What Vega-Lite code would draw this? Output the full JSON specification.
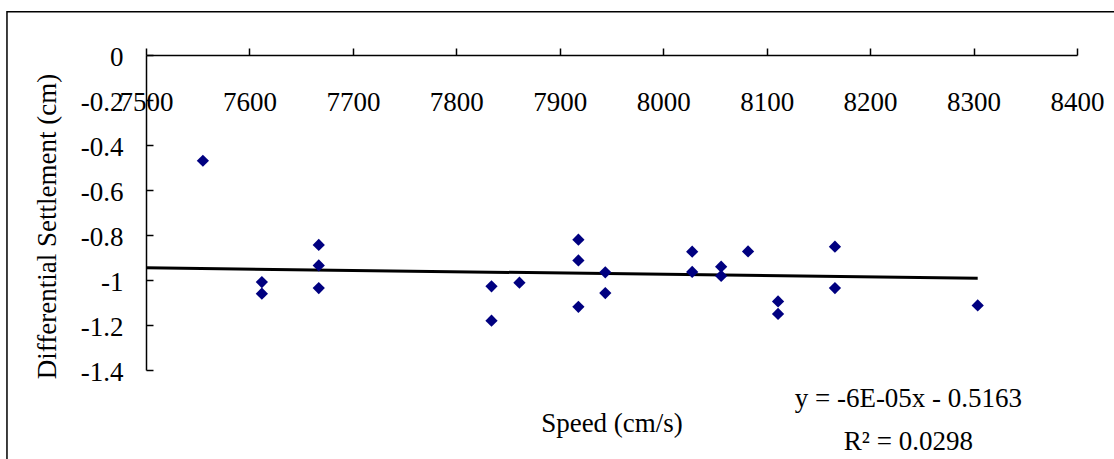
{
  "$schema": "https://vega.github.io/schema/vega-lite/v6.json",
  "width": 931,
  "height": 315,
  "autosize": {"type": "none"},
  "padding": {"left": 146, "top": 55, "right": 37, "bottom": 89},
  "background": "white",
  "config": {
    "font": "Liberation Serif",
    "view": {"stroke": null},
    "axis": {"grid": false}
  },
  "datasets": {
    "points": [
      {"speed": 7555, "settlement": -0.470},
      {"speed": 7612, "settlement": -1.009},
      {"speed": 7612, "settlement": -1.061},
      {"speed": 7667, "settlement": -0.844},
      {"speed": 7667, "settlement": -0.935},
      {"speed": 7667, "settlement": -1.036},
      {"speed": 7834, "settlement": -1.028},
      {"speed": 7834, "settlement": -1.181},
      {"speed": 7861, "settlement": -1.012},
      {"speed": 7918, "settlement": -0.821},
      {"speed": 7918, "settlement": -0.913},
      {"speed": 7918, "settlement": -1.119},
      {"speed": 7944, "settlement": -0.966},
      {"speed": 7944, "settlement": -1.058},
      {"speed": 8028, "settlement": -0.874},
      {"speed": 8028, "settlement": -0.964},
      {"speed": 8056, "settlement": -0.941},
      {"speed": 8056, "settlement": -0.982},
      {"speed": 8082, "settlement": -0.873},
      {"speed": 8111, "settlement": -1.095},
      {"speed": 8111, "settlement": -1.151},
      {"speed": 8166, "settlement": -0.852},
      {"speed": 8166, "settlement": -1.036},
      {"speed": 8304, "settlement": -1.113}
    ],
    "trend": [
      {"speed": 7500, "settlement": -0.946},
      {"speed": 8304, "settlement": -0.992}
    ],
    "notes": [
      {"speed": 8237, "settlement": -1.563, "label": "y = -6E-05x - 0.5163"},
      {"speed": 8237, "settlement": -1.756, "label": "R² = 0.0298"}
    ],
    "frame": [
      {"left": 7365.6, "right": 8460, "top": 0.1924, "bottom": -1.9}
    ]
  },
  "layer": [
    {
      "data": {"name": "frame"},
      "mark": {"type": "rect", "fill": null, "stroke": "black", "strokeWidth": 1.5},
      "encoding": {
        "x": {"field": "left", "type": "quantitative", "scale": {"domain": [7500, 8400]}},
        "x2": {"field": "right"},
        "y": {"field": "top", "type": "quantitative", "scale": {"domain": [-1.4, 0]}},
        "y2": {"field": "bottom"}
      }
    },
    {
      "data": {"name": "trend"},
      "mark": {"type": "line", "color": "black", "strokeWidth": 3},
      "encoding": {
        "x": {"field": "speed", "type": "quantitative", "scale": {"domain": [7500, 8400]}},
        "y": {"field": "settlement", "type": "quantitative", "scale": {"domain": [-1.4, 0]}}
      }
    },
    {
      "data": {"name": "points"},
      "mark": {"type": "point", "shape": "diamond", "filled": true, "color": "#000080", "size": 150, "opacity": 1},
      "encoding": {
        "x": {
          "field": "speed",
          "type": "quantitative",
          "scale": {"domain": [7500, 8400]},
          "axis": {
            "orient": "top",
            "values": [7500, 7600, 7700, 7800, 7900, 8000, 8100, 8200, 8300, 8400],
            "format": "d",
            "domainColor": "black",
            "domainWidth": 1.5,
            "tickColor": "black",
            "tickWidth": 1.5,
            "tickSize": 7,
            "labelPadding": -62,
            "labelBaseline": "alphabetic",
            "labelFontSize": 27,
            "labelColor": "black",
            "labelOverlap": false,
            "labelFlush": false,
            "labelBound": false,
            "title": "Speed (cm/s)",
            "titleFontSize": 27,
            "titleFontWeight": "normal",
            "titleColor": "black",
            "titleX": 465.5,
            "titleY": 376.7,
            "titleAlign": "center",
            "titleBaseline": "alphabetic"
          }
        },
        "y": {
          "field": "settlement",
          "type": "quantitative",
          "scale": {"domain": [-1.4, 0]},
          "axis": {
            "orient": "left",
            "values": [0, -0.2, -0.4, -0.6, -0.8, -1, -1.2, -1.4],
            "labelExpr": "datum.value < 0 ? '-' + format(-datum.value, '~g') : '0'",
            "domainColor": "black",
            "domainWidth": 1.5,
            "tickColor": "black",
            "tickWidth": 1.5,
            "tickSize": -7,
            "labelPadding": 30,
            "labelBaseline": "middle",
            "labelOffset": 2,
            "labelFontSize": 27,
            "labelColor": "black",
            "labelOverlap": false,
            "labelFlush": false,
            "labelBound": false,
            "title": "Differential Settlement (cm)",
            "titleFontSize": 27,
            "titleFontWeight": "normal",
            "titleColor": "black",
            "titleAngle": -90,
            "titleX": -91,
            "titleY": 171,
            "titleAlign": "center",
            "titleBaseline": "alphabetic"
          }
        }
      }
    },
    {
      "data": {"name": "notes"},
      "mark": {"type": "text", "fontSize": 27, "color": "black", "align": "center", "baseline": "alphabetic"},
      "encoding": {
        "x": {"field": "speed", "type": "quantitative", "scale": {"domain": [7500, 8400]}},
        "y": {"field": "settlement", "type": "quantitative", "scale": {"domain": [-1.4, 0]}},
        "text": {"field": "label"}
      }
    }
  ]
}
